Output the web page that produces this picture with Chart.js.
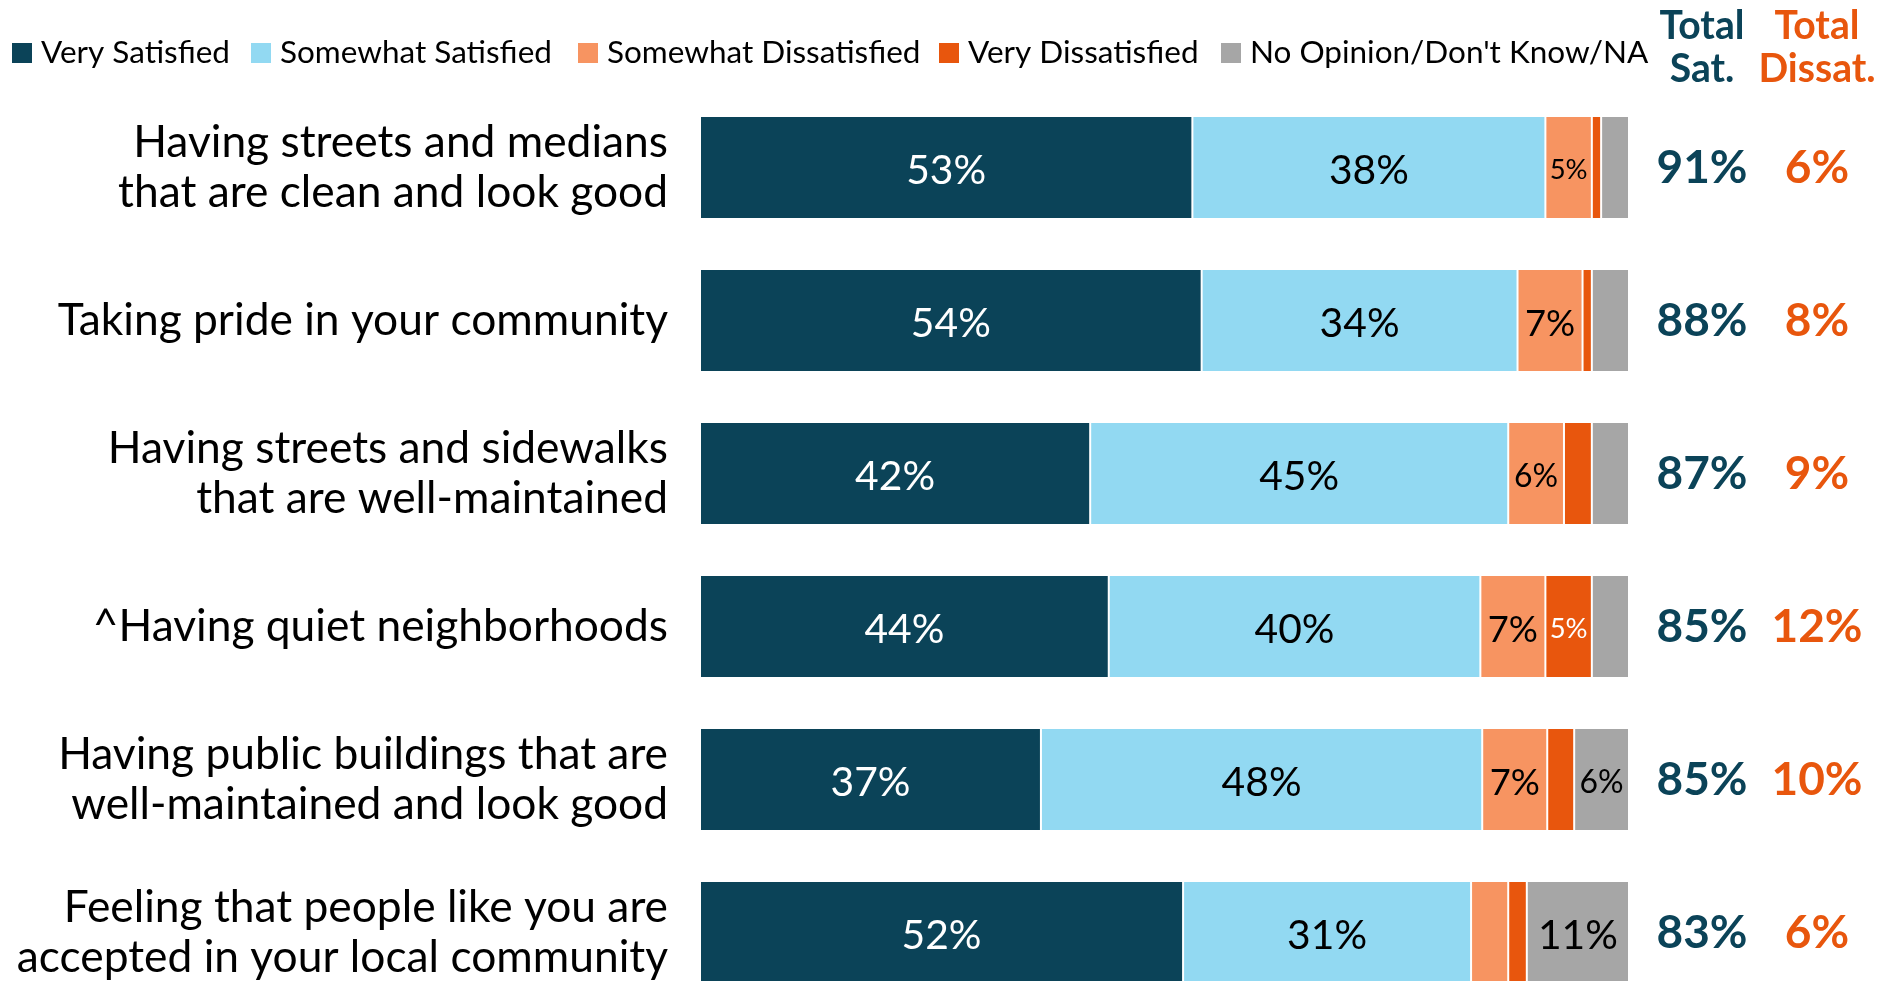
<!DOCTYPE html>
<html>
<head>
<meta charset="utf-8">
<script src="https://cdn.jsdelivr.net/npm/chart.js@4.4.0/dist/chart.umd.min.js"></script>
<style>
html,body{margin:0;padding:0;background:#fff;overflow:hidden;}
#wrap{width:1895px;height:981px;overflow:hidden;position:relative;background:#fff;}
#box{width:1895px;height:1010px;position:relative;}
</style>
</head>
<body>
<div id="wrap"><div id="box"><canvas id="c"></canvas></div></div>
<script>
// ---- data ----
const categories = [
  ["Having streets and medians", "that are clean and look good"],
  "Taking pride in your community",
  ["Having streets and sidewalks", "that are well-maintained"],
  "^Having quiet neighborhoods",
  ["Having public buildings that are", "well-maintained and look good"],
  ["Feeling that people like you are", "accepted in your local community"]
];
const seriesNames = ["Very Satisfied", "Somewhat Satisfied", "Somewhat Dissatisfied", "Very Dissatisfied", "No Opinion/Don't Know/NA"];
const verySatisfied        = [53, 54, 42, 44, 36.7, 52];
const somewhatSatisfied    = [38, 34, 45, 40, 47.5, 31];
const somewhatDissatisfied = [5, 7, 6, 7, 7.0, 4];
const veryDissatisfied     = [1, 1, 3, 5, 2.9, 2];
const noOpinion            = [3, 4, 4, 4, 5.9, 11];
const totalSat    = [91, 88, 87, 85, 85, 83];
const totalDissat = [6, 8, 9, 12, 10, 6];
const totalHeaders = [["Total", "Sat."], ["Total", "Dissat."]];

// ---- styles ----
const COLORS = ["#0B4358", "#92D9F2", "#F79461", "#E8560D", "#A6A6A6"];
const LABEL_COLORS = ["#FFFFFF", "#000000", "#000000", "#FFFFFF", "#000000"];
const FAMILY = "Lato, Carlito, 'Liberation Sans', sans-serif";

const mctx = document.createElement('canvas').getContext('2d');
function fitSize(text, target, weight) {
  mctx.font = `${weight} 100px ${FAMILY}`;
  return 100 * target / mctx.measureText(text).width;
}
const tickSize   = fitSize("Having streets and medians", 535, 'normal');
const legendSize = fitSize("Very Satisfied", 189, 'normal');
const headSize   = fitSize("Total", 85, 'bold');
const totSize    = fitSize("91%", 91, 'bold');
const segK       = fitSize("38%", 80, 'normal') / 46;

function segFontSize(v) {           // Excel-like shrink for narrow segments
  return (v >= 9 ? 46 : 5 * v + 6) * segK;
}

const legendBoxX = [12, 251, 578, 939, 1221];

const legendPlugin = {
  id: 'customLegend',
  afterDraw(chart) {
    const ctx = chart.ctx;
    ctx.save();
    chart.data.datasets.forEach((ds, i) => {
      const x = legendBoxX[i];
      ctx.fillStyle = ds.backgroundColor;
      ctx.fillRect(x, 43, 20, 20);
      ctx.fillStyle = '#000';
      ctx.font = `normal ${legendSize}px ${FAMILY}`;
      ctx.textAlign = 'left';
      ctx.textBaseline = 'alphabetic';
      ctx.fillText(ds.label, x + 29, 63);
    });
    ctx.restore();
  }
};

const segLabelPlugin = {
  id: 'segLabels',
  afterDatasetsDraw(chart) {
    const ctx = chart.ctx;
    ctx.save();
    chart.data.datasets.forEach((ds, di) => {
      const meta = chart.getDatasetMeta(di);
      meta.data.forEach((bar, i) => {
        const v = Math.round(ds.data[i]);
        if (v < 5) return;
        const size = segFontSize(v);
        const cx = (bar.x + bar.base) / 2;
        ctx.font = `normal ${size}px ${FAMILY}`;
        ctx.fillStyle = LABEL_COLORS[di];
        ctx.textAlign = 'center';
        ctx.textBaseline = 'alphabetic';
        ctx.fillText(v + '%', cx, bar.y + size * 0.72 / 2 + 2);
      });
    });
    ctx.restore();
  }
};

const totalsPlugin = {
  id: 'totals',
  afterDraw(chart) {
    const ctx = chart.ctx;
    const meta = chart.getDatasetMeta(0);
    const cols = [{x: 1702, color: COLORS[0], vals: totalSat},
                  {x: 1817, color: COLORS[3], vals: totalDissat}];
    ctx.save();
    ctx.textAlign = 'center';
    ctx.textBaseline = 'alphabetic';
    cols.forEach((col, ci) => {
      ctx.fillStyle = col.color;
      ctx.font = `bold ${headSize}px ${FAMILY}`;
      ctx.fillText(totalHeaders[ci][0], col.x, 39);
      ctx.fillText(totalHeaders[ci][1], col.x, 82);
      ctx.font = `bold ${totSize}px ${FAMILY}`;
      meta.data.forEach((bar, i) => {
        ctx.fillText(col.vals[i] + '%', col.x, bar.y + 15.5);
      });
    });
    ctx.restore();
  }
};

const seriesData = [verySatisfied, somewhatSatisfied, somewhatDissatisfied, veryDissatisfied, noOpinion];

new Chart(document.getElementById('c'), {
  type: 'bar',
  data: {
    labels: categories,
    datasets: seriesNames.map((name, i) => ({
      label: name,
      data: seriesData[i],
      backgroundColor: COLORS[i],
      borderColor: 'rgba(255,255,255,0.3)',
      borderWidth: 1,
      borderSkipped: false,
      categoryPercentage: 1,
      barPercentage: 103 / 153
    }))
  },
  options: {
    indexAxis: 'y',
    responsive: true,
    maintainAspectRatio: false,
    animation: false,
    devicePixelRatio: 1,
    layout: { padding: { top: 91, bottom: 1, left: 0, right: 266 } },
    plugins: { legend: { display: false }, tooltip: { enabled: false } },
    scales: {
      x: { stacked: true, min: 0, max: 100, display: false },
      y: {
        stacked: true,
        grid: { display: false, drawTicks: false },
        border: { display: false },
        ticks: {
          color: '#000',
          padding: 32,
          font: { family: FAMILY, size: tickSize, lineHeight: '50px' }
        },
        afterFit(scale) {
          scale.width = 700;
          scale.paddingTop = 0;
          scale.paddingBottom = 0;
        }
      }
    }
  },
  plugins: [legendPlugin, segLabelPlugin, totalsPlugin]
});
</script>
</body>
</html>
